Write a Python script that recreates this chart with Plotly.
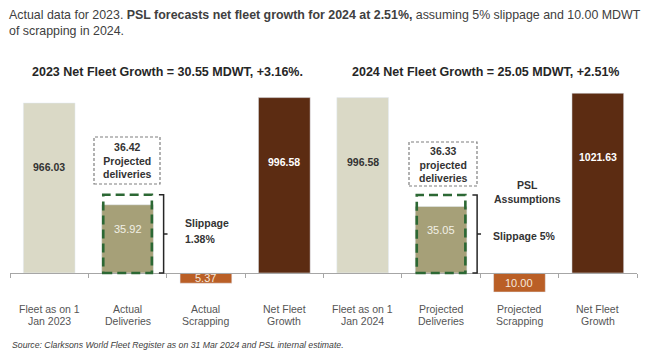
import plotly.graph_objects as go

# ---------------- data ----------------
categories = ["Fleet as on 1\nJan 2023", "Actual\nDeliveries", "Actual\nScrapping", "Net Fleet\nGrowth",
              "Fleet as on 1\nJan 2024", "Projected\nDeliveries", "Projected\nScrapping", "Net Fleet\nGrowth"]
fleet_start_idx = [0, 4]
fleet_start_vals = [966.03, 996.58]
net_fleet_idx = [3, 7]
net_fleet_vals = [996.58, 1021.63]
deliv_idx = [1, 5]
deliv_vals = [35.92, 35.05]
projected_vals = [36.42, 36.33]
projected_words = ["Projected<br>deliveries", "projected<br>deliveries"]
scrap_idx = [2, 6]
scrap_vals = [5.37, 10.00]
slippage_pct = ["1.38%", "5%"]
headline = ("Actual data for 2023. <b>PSL forecasts net fleet growth for 2024 at 2.51%,</b> "
            "assuming 5% slippage and 10.00 MDWT<br>of scrapping in 2024.")
subtitles = ["2023 Net Fleet Growth = 30.55 MDWT, +3.16%.", "2024 Net Fleet Growth = 25.05 MDWT, +2.51%"]
source = "Source: Clarksons World Fleet Register as on 31 Mar 2024 and PSL internal estimate."

# ---------------- layout constants ----------------
W, H = 645, 351
ML, MR = 10, 8
AXIS_PX = 273
K_FLEET = 0.176      # px per MDWT, fleet bars
K_FLOW = 1.9         # px per MDWT, delivery/scrapping bars (magnified)
BW = 0.66
FONT = "Liberation Sans, Arial, sans-serif"

C_BEIGE = "#DAD9C6"
C_OLIVE = "#A6A078"
C_ORANGE = "#BA5F26"
C_BROWN = "#5C2C12"
C_GREEN = "#2C6834"
C_TXT = "#333333"
C_LBL = "#555555"


def pxx(px):
    return (px - ML) / (W - ML - MR)


def pyy(py):
    return 1 - py / H


def A(**kw):
    d = dict(showarrow=False, xanchor="center", yanchor="middle")
    d.update(kw)
    return d


fig = go.Figure()
fig.add_bar(x=fleet_start_idx, y=fleet_start_vals, width=BW, marker_color=C_BEIGE, yaxis="y",
            hoverinfo="skip", showlegend=False)
fig.add_bar(x=net_fleet_idx, y=net_fleet_vals, width=BW, marker_color=C_BROWN, yaxis="y",
            hoverinfo="skip", showlegend=False)
fig.add_bar(x=deliv_idx, y=deliv_vals, width=BW, marker_color=C_OLIVE, yaxis="y2",
            hoverinfo="skip", showlegend=False)
fig.add_bar(x=scrap_idx, y=[-v for v in scrap_vals], width=BW, marker_color=C_ORANGE, yaxis="y2",
            hoverinfo="skip", showlegend=False)

ann = []
shapes = []

# value labels
for i, v in zip(fleet_start_idx, fleet_start_vals):
    ann.append(A(x=i, y=v, xref="x", yref="y", yshift=-64, text=f"<b>{v:.2f}</b>",
                 font=dict(size=10.5, color=C_TXT, family=FONT)))
for i, v in zip(net_fleet_idx, net_fleet_vals):
    ann.append(A(x=i, y=v, xref="x", yref="y", yshift=-64, text=f"<b>{v:.2f}</b>",
                 font=dict(size=10.5, color="white", family=FONT)))
for i, v in zip(deliv_idx, deliv_vals):
    ann.append(A(x=i, y=v, xref="x", yref="y2", yshift=-24, text=f"{v:.2f}",
                 font=dict(size=11, color="#F2F0E6", family=FONT)))
for i, v in zip(scrap_idx, scrap_vals):
    ann.append(A(x=i, y=-v / 2, xref="x", yref="y2", text=f"{v:.2f}",
                 font=dict(size=11, color="#F6E8DD", family=FONT)))

# dashed projected-delivery outline + bracket
PAD = 9 / K_FLOW
for i, p in zip(deliv_idx, projected_vals):
    top = p + PAD
    shapes.append(dict(type="rect", xref="x", yref="y2", x0=i - BW / 2 + 0.02, x1=i + BW / 2 - 0.02,
                       y0=0, y1=top, line=dict(color=C_GREEN, width=2.6, dash="9px,5px")))
    e = i + BW / 2
    xa, xb, xc = e + 0.07, e + 0.13, e + 0.18
    shapes.append(dict(type="path", xref="x", yref="y2",
                       path=f"M{xa},{top} L{xb},{top} L{xb},0 L{xa},0 M{xb},{top / 2} L{xc},{top / 2}",
                       line=dict(color="#262626", width=1.5)))

# dotted projection boxes (pixel positions)
boxes = [(94, 160, 137, 184), (409, 477, 142, 186)]
for (x0, x1, y0, y1), p, w in zip(boxes, projected_vals, projected_words):
    shapes.append(dict(type="rect", xref="paper", yref="paper", x0=pxx(x0), x1=pxx(x1),
                       y0=pyy(y1), y1=pyy(y0), line=dict(color="#7F7F7F", width=1.2, dash="3px,2px")))
    ann.append(A(x=pxx((x0 + x1) / 2), y=pyy((y0 + y1) / 2), xref="paper", yref="paper",
                 text=f"<b>{p:.2f}<br>{w}</b>", font=dict(size=10.5, color=C_TXT, family=FONT)))

# slippage labels
ann.append(A(x=pxx(183), y=pyy(223), xref="paper", yref="paper", xanchor="left", text="<b>Slippage</b>",
             font=dict(size=10.5, color=C_TXT, family=FONT)))
ann.append(A(x=pxx(183), y=pyy(239), xref="paper", yref="paper", xanchor="left",
             text=f"<b>{slippage_pct[0]}</b>", font=dict(size=10.5, color=C_TXT, family=FONT)))
ann.append(A(x=pxx(491), y=pyy(236), xref="paper", yref="paper", xanchor="left",
             text=f"<b>Slippage {slippage_pct[1]}</b>", font=dict(size=10.5, color=C_TXT, family=FONT)))
ann.append(A(x=pxx(527), y=pyy(191.5), xref="paper", yref="paper", text="<b>PSL<br>Assumptions</b>",
             font=dict(size=10.5, color=C_TXT, family=FONT)))

# category labels
for i, c in enumerate(categories):
    for j, line in enumerate(c.split("\n")):
        ann.append(A(x=i, y=pyy(309 + 12 * j), xref="x", yref="paper", text=line,
                     font=dict(size=10.5, color=C_LBL, family=FONT)))

# titles
ann.append(A(x=pxx(7), y=pyy(23), xref="paper", yref="paper", xanchor="left", align="left",
             text=headline, font=dict(size=12.4, color="#404040", family=FONT)))
for cx, t in zip([167, 485], subtitles):
    ann.append(A(x=pxx(cx), y=pyy(72), xref="paper", yref="paper", text=f"<b>{t}</b>",
                 font=dict(size=12.5, color="#262626", family=FONT)))
ann.append(A(x=pxx(10), y=pyy(345), xref="paper", yref="paper", xanchor="left",
             text=f"<i>{source}</i>", font=dict(size=8.7, color="#404040", family=FONT)))

below = H - AXIS_PX
fig.update_layout(
    width=W, height=H, margin=dict(l=ML, r=MR, t=0, b=0),
    paper_bgcolor="white", plot_bgcolor="white", barmode="overlay", showlegend=False,
    xaxis=dict(range=[-0.5, 7.5], anchor="free", position=below / H, showline=True, linecolor="#A6A6A6",
               linewidth=1, ticks="outside", ticklen=4, tickcolor="#A6A6A6",
               tickvals=[k - 0.5 for k in range(len(categories) + 1)], showticklabels=False,
               showgrid=False, zeroline=False, fixedrange=True),
    yaxis=dict(range=[-below / K_FLEET, AXIS_PX / K_FLEET], visible=False, fixedrange=True),
    yaxis2=dict(range=[-below / K_FLOW, AXIS_PX / K_FLOW], overlaying="y", visible=False, fixedrange=True),
    annotations=ann, shapes=shapes,
)

fig.write_html("out.html", config={"displayModeBar": False})
